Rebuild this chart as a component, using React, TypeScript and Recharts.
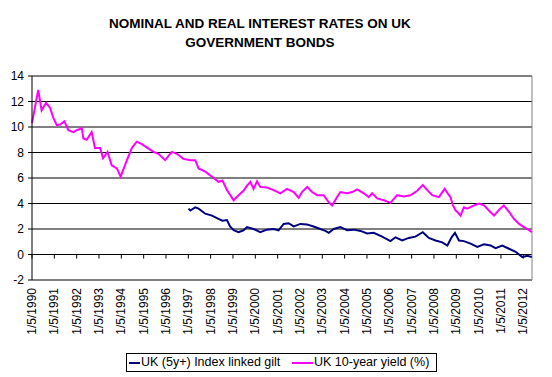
import React from 'react';
import { LineChart, Line, XAxis, YAxis, CartesianGrid, ReferenceLine } from 'recharts';

// [decimal year, %]
const nominalYield: [number, number][] = [
  [1990.33, 10.3], [1990.5, 11.9], [1990.61, 12.9], [1990.76, 11.3], [1990.96, 11.9],
  [1991.14, 11.5], [1991.29, 10.7], [1991.44, 10.15], [1991.59, 10.2], [1991.78, 10.45],
  [1991.96, 9.75], [1992.18, 9.6], [1992.33, 9.75], [1992.56, 9.9], [1992.63, 9.1],
  [1992.78, 9.0], [1993.0, 9.6], [1993.15, 8.35], [1993.38, 8.35], [1993.51, 7.55],
  [1993.71, 8.05], [1993.9, 7.0], [1994.13, 6.75], [1994.3, 6.1], [1994.58, 7.4],
  [1994.8, 8.35], [1995.02, 8.85], [1995.25, 8.65], [1995.55, 8.3], [1995.77, 8.05],
  [1995.99, 7.9], [1996.29, 7.4], [1996.59, 8.05], [1996.82, 7.9], [1997.11, 7.5],
  [1997.42, 7.4], [1997.64, 7.4], [1997.79, 6.75], [1998.09, 6.5], [1998.39, 6.1],
  [1998.68, 5.7], [1998.86, 5.8], [1999.06, 5.05], [1999.36, 4.25], [1999.58, 4.65],
  [1999.8, 5.0], [1999.96, 5.4], [2000.11, 5.7], [2000.25, 5.15], [2000.41, 5.75],
  [2000.55, 5.3], [2000.85, 5.25], [2001.15, 5.05], [2001.45, 4.8], [2001.75, 5.15],
  [2002.05, 4.9], [2002.27, 4.45], [2002.42, 4.9], [2002.65, 5.3], [2002.87, 4.9],
  [2003.1, 4.65], [2003.39, 4.65], [2003.62, 4.1], [2003.77, 3.85], [2003.99, 4.5],
  [2004.14, 4.9], [2004.44, 4.8], [2004.67, 4.9], [2004.89, 5.1], [2005.19, 4.8],
  [2005.41, 4.5], [2005.56, 4.8], [2005.79, 4.4], [2006.08, 4.25], [2006.38, 4.05],
  [2006.68, 4.65], [2006.98, 4.55], [2007.28, 4.65], [2007.58, 5.0], [2007.83, 5.45],
  [2008.03, 5.05], [2008.25, 4.65], [2008.55, 4.5], [2008.81, 5.15], [2009.0, 4.65],
  [2009.07, 4.5], [2009.18, 3.85], [2009.3, 3.45], [2009.37, 3.35], [2009.52, 3.05],
  [2009.67, 3.7], [2009.82, 3.6], [2010.05, 3.8], [2010.34, 4.0], [2010.57, 3.85],
  [2010.79, 3.45], [2011.02, 3.05], [2011.24, 3.5], [2011.46, 3.85], [2011.69, 3.35],
  [2011.91, 2.8], [2012.14, 2.4], [2012.36, 2.15], [2012.51, 2.0], [2012.71, 1.75],
];

const indexLinked: [number, number][] = [
  [1997.34, 3.6], [1997.42, 3.45], [1997.64, 3.7], [1997.79, 3.6], [1998.09, 3.2],
  [1998.39, 3.05], [1998.68, 2.8], [1998.86, 2.65], [1999.06, 2.7], [1999.2, 2.2],
  [1999.36, 1.9], [1999.58, 1.75], [1999.8, 1.9], [1999.96, 2.15], [2000.25, 2.0],
  [2000.55, 1.75], [2000.85, 1.95], [2001.15, 2.0], [2001.37, 1.9], [2001.6, 2.4],
  [2001.82, 2.45], [2002.05, 2.2], [2002.35, 2.4], [2002.65, 2.35], [2002.94, 2.2],
  [2003.24, 2.0], [2003.47, 1.85], [2003.62, 1.7], [2003.84, 2.0], [2004.14, 2.15],
  [2004.44, 1.9], [2004.74, 1.95], [2005.04, 1.85], [2005.34, 1.65], [2005.63, 1.7],
  [2006.01, 1.4], [2006.38, 1.05], [2006.61, 1.35], [2006.91, 1.1], [2007.2, 1.3],
  [2007.5, 1.4], [2007.83, 1.75], [2008.1, 1.3], [2008.4, 1.1], [2008.7, 0.95],
  [2008.93, 0.7], [2009.12, 1.35], [2009.27, 1.7], [2009.45, 1.1], [2009.67, 1.05],
  [2009.97, 0.85], [2010.27, 0.6], [2010.57, 0.8], [2010.87, 0.7], [2011.09, 0.5],
  [2011.39, 0.7], [2011.69, 0.45], [2011.99, 0.2], [2012.29, -0.2], [2012.51, -0.1],
  [2012.71, -0.2],
];

const tickYears = [
  1990, 1991, 1992, 1993, 1994, 1995, 1996, 1997, 1998, 1999, 2000, 2001,
  2002, 2003, 2004, 2005, 2006, 2007, 2008, 2009, 2010, 2011, 2012,
];
const yTicks = [-2, 0, 2, 4, 6, 8, 10, 12, 14];

// 1 May of each year as a decimal year
const tickValues = tickYears.map((y) => y + 0.33);
const xDomain: [number, number] = [1990.33, 2012.72];

const toRows = (pts: [number, number][]) => pts.map(([t, v]) => ({ t, v }));
const nominalRows = toRows(nominalYield);
const realRows = toRows(indexLinked);

const FONT = 'Arial, "Liberation Sans", sans-serif';

const DateTick = ({ x, y, payload }: any) => {
  const year = Math.round(payload.value - 0.33);
  return (
    <text
      transform={`translate(${x + 4},${y}) rotate(-90)`}
      textAnchor="end"
      fontSize={12}
      fontFamily={FONT}
      fill="#000"
    >
      {`1/5/${year}`}
    </text>
  );
};

export default function App() {
  return (
    <div style={{ position: 'absolute', left: 0, top: 0, width: 552, height: 377, background: '#fff', fontFamily: FONT }}>
      <div
        style={{
          position: 'absolute', left: 0, top: 14, width: 520, textAlign: 'center',
          fontSize: 13.5, fontWeight: 'bold', lineHeight: '19px', color: '#000',
        }}
      >
        NOMINAL AND REAL INTEREST RATES ON UK
        <br />
        GOVERNMENT BONDS
      </div>

      <LineChart width={552} height={377} margin={{ top: 76, right: 20, left: 0, bottom: 37 }}>
        <CartesianGrid horizontal vertical={false} stroke="#000" strokeWidth={1} />
        <XAxis
          dataKey="t"
          type="number"
          domain={xDomain}
          ticks={tickValues}
          tick={<DateTick />}
          tickLine={false}
          axisLine={false}
          height={60}
          interval={0}
          allowDuplicatedCategory={false}
        />
        <YAxis
          domain={[-2, 14]}
          ticks={yTicks}
          width={32}
          tickSize={4}
          tickMargin={4}
          interval={0}
          axisLine={{ stroke: '#000' }}
          tickLine={{ stroke: '#000' }}
          tick={{ fontSize: 12, fill: '#000', fontFamily: FONT }}
        />
        <ReferenceLine y={14} stroke="#808080" strokeWidth={1} />
        <ReferenceLine x={xDomain[1]} stroke="#808080" strokeWidth={1} />
        {tickValues.map((t) => (
          <ReferenceLine
            key={`xt-${t}`}
            segment={[{ x: t, y: 0 }, { x: t, y: -0.32 }]}
            stroke="#000"
          />
        ))}
        <Line
          data={nominalRows}
          dataKey="v"
          name="UK 10-year yield (%)"
          stroke="#FF00FF"
          strokeWidth={2}
          dot={false}
          isAnimationActive={false}
        />
        <Line
          data={realRows}
          dataKey="v"
          name="UK (5y+) Index linked gilt"
          stroke="#000080"
          strokeWidth={2}
          dot={false}
          isAnimationActive={false}
        />
      </LineChart>

      {/* legend box */}
      <div
        style={{
          position: 'absolute', left: 126, top: 353, width: 309, height: 17,
          border: '1px solid #000', fontSize: 12.5, color: '#000',
        }}
      >
        <div style={{ position: 'absolute', left: 2, top: 8, width: 11, height: 2, background: '#000080' }} />
        <span style={{ position: 'absolute', left: 14, top: 1, whiteSpace: 'nowrap' }}>UK (5y+) Index linked gilt</span>
        <div style={{ position: 'absolute', left: 165, top: 8, width: 21, height: 2, background: '#FF00FF' }} />
        <span style={{ position: 'absolute', left: 187, top: 1, whiteSpace: 'nowrap' }}>UK 10-year yield (%)</span>
      </div>
    </div>
  );
}
